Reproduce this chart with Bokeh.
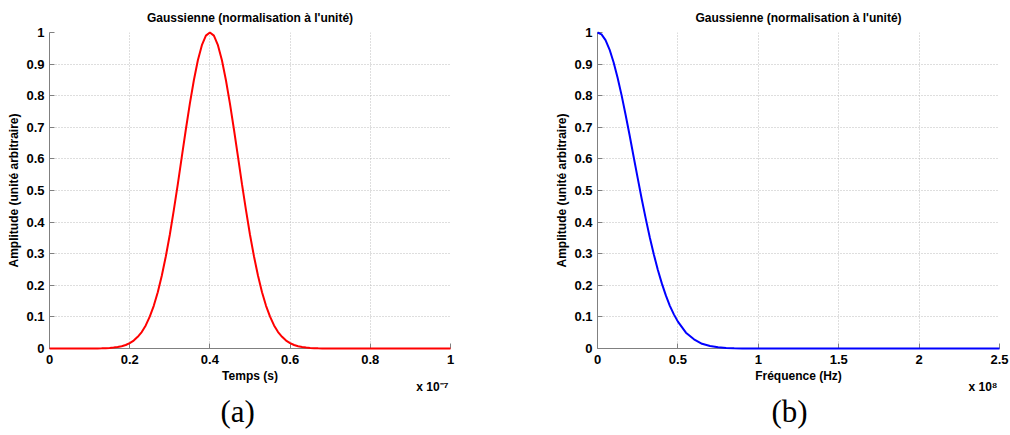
from bokeh.plotting import figure
from bokeh.layouts import row
from bokeh.models import Range1d, FixedTicker, CustomJSTickFormatter, Title
from bokeh.embed import file_html
from bokeh.resources import INLINE

# ---- data ----
title_text = "Gaussienne (normalisation à l'unité)"
ylabel_text = "Amplitude (unité arbitraire)"

# (a) time domain, x in units of 1e-7 s
temps = [0.00, 0.10, 0.12, 0.13, 0.14, 0.15, 0.16, 0.17, 0.18, 0.19,
         0.20, 0.21, 0.22, 0.23, 0.24, 0.25, 0.26, 0.27, 0.28, 0.29,
         0.30, 0.31, 0.32, 0.33, 0.34, 0.35, 0.36, 0.37, 0.38, 0.39,
         0.40, 0.41, 0.42, 0.43, 0.44, 0.45, 0.46, 0.47, 0.48, 0.49,
         0.50, 0.51, 0.52, 0.53, 0.54, 0.55, 0.56, 0.57, 0.58, 0.59,
         0.60, 0.61, 0.62, 0.63, 0.64, 0.65, 0.66, 0.67, 0.68, 0.80, 1.00]
amp_temps = [0.0, 0.0, 0.0003, 0.0006, 0.001, 0.0017, 0.0028, 0.0045, 0.0072, 0.011,
             0.017, 0.025, 0.037, 0.052, 0.073, 0.101, 0.135, 0.178, 0.230, 0.291,
             0.360, 0.438, 0.520, 0.607, 0.693, 0.775, 0.849, 0.912, 0.960, 0.990,
             1.000, 0.990, 0.960, 0.912, 0.849, 0.775, 0.693, 0.607, 0.520, 0.438,
             0.360, 0.291, 0.230, 0.178, 0.135, 0.101, 0.073, 0.052, 0.037, 0.025,
             0.017, 0.011, 0.0072, 0.0045, 0.0028, 0.0017, 0.001, 0.0006, 0.0003, 0.0, 0.0]

# (b) frequency domain, x in units of 1e8 Hz
freq = [0.000, 0.025, 0.050, 0.075, 0.100, 0.125, 0.150, 0.175, 0.200, 0.225,
        0.250, 0.275, 0.300, 0.325, 0.350, 0.375, 0.400, 0.425, 0.450, 0.475,
        0.500, 0.550, 0.600, 0.650, 0.700, 0.750, 0.800, 0.850, 0.900, 1.000, 2.500]
amp_freq = [1.000, 0.994, 0.976, 0.946, 0.906, 0.857, 0.801, 0.739, 0.674, 0.606,
            0.539, 0.473, 0.411, 0.352, 0.298, 0.249, 0.206, 0.168, 0.135, 0.108,
            0.085, 0.050, 0.029, 0.015, 0.0079, 0.0039, 0.0018, 0.0008, 0.0003, 0.0, 0.0]

xticks_a = [0, 0.2, 0.4, 0.6, 0.8, 1.0]
xticks_b = [0, 0.5, 1.0, 1.5, 2.0, 2.5]
yticks = [0, 0.1, 0.2, 0.3, 0.4, 0.5, 0.6, 0.7, 0.8, 0.9, 1.0]

FONT = "Liberation Sans"
H = 435


def make_panel(w, bl, br, xmax, xs, ys, color, xticks, xlabel, exp_txt, tag, tag_off):
    p = figure(width=w, height=H, x_range=Range1d(0, xmax), y_range=Range1d(0, 1),
               output_backend="svg", toolbar_location=None,
               min_border_left=bl, min_border_right=br,
               min_border_top=32, min_border_bottom=87,
               title=title_text)
    p.outline_line_color = None
    p.background_fill_color = "white"
    p.border_fill_color = "white"
    p.title.text_font = FONT
    p.title.text_font_style = "bold"
    p.title.text_font_size = "12px"
    p.title.text_color = "black"
    p.title.align = "center"
    p.title.standoff = 15

    p.xaxis.ticker = FixedTicker(ticks=xticks)
    p.yaxis.ticker = FixedTicker(ticks=yticks)
    p.xaxis.formatter = CustomJSTickFormatter(code="return String(Number(tick.toFixed(2)));")
    p.yaxis.formatter = CustomJSTickFormatter(code="return String(Number(tick.toFixed(2)));")
    for ax in (p.xaxis[0], p.yaxis[0]):
        ax.major_label_text_font = FONT
        ax.major_label_text_font_style = "bold"
        ax.major_label_text_font_size = "13px"
        ax.major_label_text_color = "black"
        ax.axis_line_color = "#808080"
        ax.major_tick_line_color = "#808080"
        ax.major_tick_in = 5
        ax.major_tick_out = 0
        ax.minor_tick_line_color = None
        ax.major_label_standoff = 5
        ax.axis_label_text_font = FONT
        ax.axis_label_text_font_style = "bold"
        ax.axis_label_text_font_size = "12px"
        ax.axis_label_text_color = "black"
    p.xaxis.major_label_standoff = 6
    p.xaxis.axis_label = xlabel
    p.xaxis.axis_label_standoff = 2
    p.yaxis.axis_label = ylabel_text
    p.yaxis.axis_label_standoff = 2

    for g in (p.xgrid[0], p.ygrid[0]):
        g.grid_line_color = "#bcbcbc"
        g.grid_line_dash = "1 2"
        g.grid_line_width = 1

    r = p.line(xs, ys, line_color=color, line_width=2)
    r.level = "overlay"

    p.add_layout(Title(text="x 10" + exp_txt, align="right", text_font=FONT,
                       text_font_style="bold", text_font_size="12px",
                       text_color="black", standoff=-15, offset=2), "below")
    p.add_layout(Title(text=tag, align="left", text_font="Liberation Serif",
                       text_font_style="normal", text_font_size="31px",
                       text_color="black", standoff=10, offset=tag_off), "below")
    return p


pa = make_panel(508, 49, 58, 1.0, temps, amp_temps, "#ff0000", xticks_a,
                "Temps (s)", "⁻⁷", "(a)", 171)
pb = make_panel(502, 89, 11, 2.5, freq, amp_freq, "#0000ff", xticks_b,
                "Fréquence (Hz)", "⁸", "(b)", 174)

layout = row(pa, pb)
open("out.html", "w").write(file_html(layout, INLINE))
